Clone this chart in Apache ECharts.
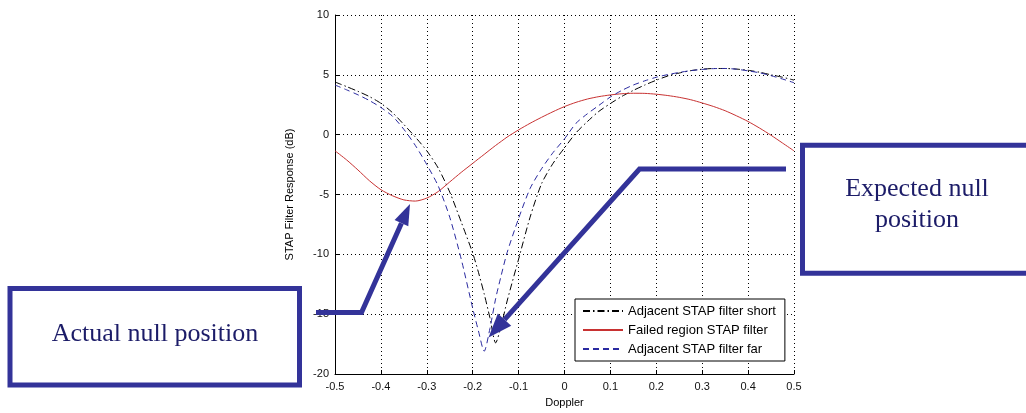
<!DOCTYPE html>
<html>
<head>
<meta charset="utf-8">
<script src="https://cdn.jsdelivr.net/npm/echarts@6/dist/echarts.min.js"></script>
<style>
  html, body { margin: 0; padding: 0; background: #fff; }
  #chart { width: 1026px; height: 413px; }
</style>
</head>
<body>
<div id="chart"></div>
<script>
// Normalised Doppler samples shared by all three filter responses
const doppler = [-0.5, -0.475, -0.45, -0.425, -0.4, -0.375, -0.35, -0.325, -0.3, -0.275,
  -0.25, -0.225, -0.2, -0.1875, -0.175, -0.1625, -0.15, -0.1375, -0.125, -0.1,
  -0.075, -0.05, -0.025, 0, 0.025, 0.05, 0.075, 0.1, 0.125, 0.15,
  0.175, 0.2, 0.225, 0.25, 0.275, 0.3, 0.325, 0.35, 0.375, 0.4,
  0.425, 0.45, 0.475, 0.5];

// STAP filter response (dB) – adjacent filter, short range
const adjacentShort = [4.4, 4.02, 3.62, 3.18, 2.62, 1.85, 0.85, -0.2, -1.35, -2.8,
  -4.8, -7.3, -9.9, -11.5, -13.3, -15.3, -17.4, -15.9, -13.9, -10.4,
  -6.9, -4.1, -2.4, -1.1, 0.15, 1.1, 1.95, 2.6, 3.2, 3.7,
  4.15, 4.55, 4.9, 5.15, 5.35, 5.47, 5.53, 5.53, 5.48, 5.38,
  5.22, 5.0, 4.8, 4.56];

// STAP filter response (dB) – failed region
const failedRegion = [-1.35, -2.1, -2.95, -3.85, -4.6, -5.1, -5.45, -5.55, -5.3, -4.75,
  -3.95, -3.15, -2.4, -2.02, -1.65, -1.27, -0.9, -0.55, -0.2, 0.4,
  0.95, 1.45, 1.92, 2.35, 2.7, 2.98, 3.18, 3.32, 3.42, 3.46,
  3.45, 3.38, 3.27, 3.12, 2.92, 2.65, 2.35, 2.0, 1.57, 1.1,
  0.55, -0.05, -0.7, -1.35];

// STAP filter response (dB) – adjacent filter, far range
const adjacentFar = [4.15, 3.75, 3.33, 2.85, 2.27, 1.55, 0.45, -0.9, -2.5, -4.3,
  -6.9, -10.4, -14.5, -16.4, -18.1, -16.2, -13.7, -11.7, -9.85, -7.0,
  -4.5, -2.85, -1.5, -0.35, 0.95, 1.75, 2.45, 3.15, 3.7, 4.15,
  4.5, 4.8, 5.02, 5.2, 5.35, 5.45, 5.52, 5.53, 5.47, 5.33,
  5.17, 4.93, 4.65, 4.34];

const seriesNames = ['Adjacent STAP filter short', 'Failed region STAP filter', 'Adjacent STAP filter far'];
const xRange = [-0.5, 0.5], xStep = 0.1;
const yRange = [-20, 10], yStep = 5;

const axisFont = '"Liberation Sans", Arial, Helvetica, sans-serif';
const noteFont = '"Liberation Serif", "Times New Roman", serif';
const noteBlue = '#333399';
const noteText = '#1c1c68';

const pairs = vals => doppler.map((d, i) => [d, vals[i]]);
const tickFmt = v => { const r = Math.round(v * 10) / 10; return r === 0 ? '0' : String(r); };

function axisCommon() {
  return {
    type: 'value',
    nameLocation: 'middle',
    nameTextStyle: { fontFamily: axisFont, fontSize: 11, color: '#000' },
    axisLine: { show: true, onZero: false, lineStyle: { color: '#000', width: 1 } },
    axisTick: { show: true, inside: true, length: 4, lineStyle: { color: '#000' } },
    axisLabel: { fontFamily: axisFont, fontSize: 11, color: '#111', margin: 6,
                 showMinLabel: true, showMaxLabel: true, formatter: tickFmt },
    splitLine: { show: true, lineStyle: { color: '#000', width: 1, type: [1, 3] } }
  };
}

// Call-out arrow: polyline ending in a filled triangular head
function arrow(points, headLen, headHalf) {
  const n = points.length;
  const tip = points[n - 1], prev = points[n - 2];
  const dx = tip[0] - prev[0], dy = tip[1] - prev[1];
  const L = Math.hypot(dx, dy), ux = dx / L, uy = dy / L;
  const base = [tip[0] - ux * headLen, tip[1] - uy * headLen];
  const line = points.slice(0, n - 1).concat([base]);
  const head = [tip,
    [base[0] - uy * headHalf, base[1] + ux * headHalf],
    [base[0] + uy * headHalf, base[1] - ux * headHalf]];
  return [
    { type: 'polyline', z: 100, shape: { points: line },
      style: { stroke: noteBlue, lineWidth: 5, fill: null, lineJoin: 'miter', lineCap: 'butt' } },
    { type: 'polygon', z: 100, shape: { points: head }, style: { fill: noteBlue, stroke: null } }
  ];
}

const chart = echarts.init(document.getElementById('chart'), null, { renderer: 'canvas' });

const xAxis = Object.assign(axisCommon(), {
  min: xRange[0], max: xRange[1], interval: xStep,
  name: 'Doppler', nameGap: 23
});
xAxis.axisLabel.margin = 7;
const yAxis = Object.assign(axisCommon(), {
  min: yRange[0], max: yRange[1], interval: yStep,
  name: 'STAP Filter Response (dB)', nameGap: 40
});

chart.setOption({
  animation: false,
  backgroundColor: '#fff',
  grid: { left: 335, right: 232, top: 15, bottom: 36, containLabel: false },
  xAxis: xAxis,
  yAxis: yAxis,
  legend: {
    orient: 'vertical', left: 575, top: 299,
    padding: [5, 9, 5, 7], itemWidth: 40, itemHeight: 14, itemGap: 5,
    borderColor: '#000', borderWidth: 1, backgroundColor: '#fff',
    selectedMode: false,
    itemStyle: { opacity: 0 },
    textStyle: { fontFamily: axisFont, fontSize: 13, color: '#000', lineHeight: 14 },
    data: seriesNames
  },
  series: [
    { name: seriesNames[0], type: 'line', data: pairs(adjacentShort), symbol: 'none', smooth: 0.25,
      color: '#000', lineStyle: { color: '#000', width: 1, type: [7, 3, 1.5, 3] } },
    { name: seriesNames[1], type: 'line', data: pairs(failedRegion), symbol: 'none', smooth: 0.25,
      color: '#c83232', lineStyle: { color: '#c83232', width: 1 } },
    { name: seriesNames[2], type: 'line', data: pairs(adjacentFar), symbol: 'none', smooth: 0.25,
      color: '#2a2aa0', lineStyle: { color: '#2a2aa0', width: 1, type: [6, 4] } }
  ],
  graphic: [
    { type: 'rect', z: 90, shape: { x: 10, y: 288.5, width: 289.5, height: 96.5 },
      style: { fill: '#fff', stroke: noteBlue, lineWidth: 5 } },
    { type: 'text', z: 91, x: 155, y: 334,
      style: { text: 'Actual null position', font: '26px ' + noteFont, fill: noteText,
               align: 'center', verticalAlign: 'middle' } },
    { type: 'rect', z: 90, shape: { x: 802.5, y: 145.2, width: 240, height: 128 },
      style: { fill: '#fff', stroke: noteBlue, lineWidth: 5 } },
    { type: 'text', z: 91, x: 917, y: 189,
      style: { text: 'Expected null', font: '26px ' + noteFont, fill: noteText,
               align: 'center', verticalAlign: 'middle' } },
    { type: 'text', z: 91, x: 917, y: 220,
      style: { text: 'position', font: '26px ' + noteFont, fill: noteText,
               align: 'center', verticalAlign: 'middle' } }
  ].concat(
    arrow([[316, 312.5], [361.5, 312.5], [410, 204]], 21, 7.5),
    arrow([[786, 169], [639.5, 169], [488.5, 337.5]], 24, 9)
  )
});
</script>
</body>
</html>
